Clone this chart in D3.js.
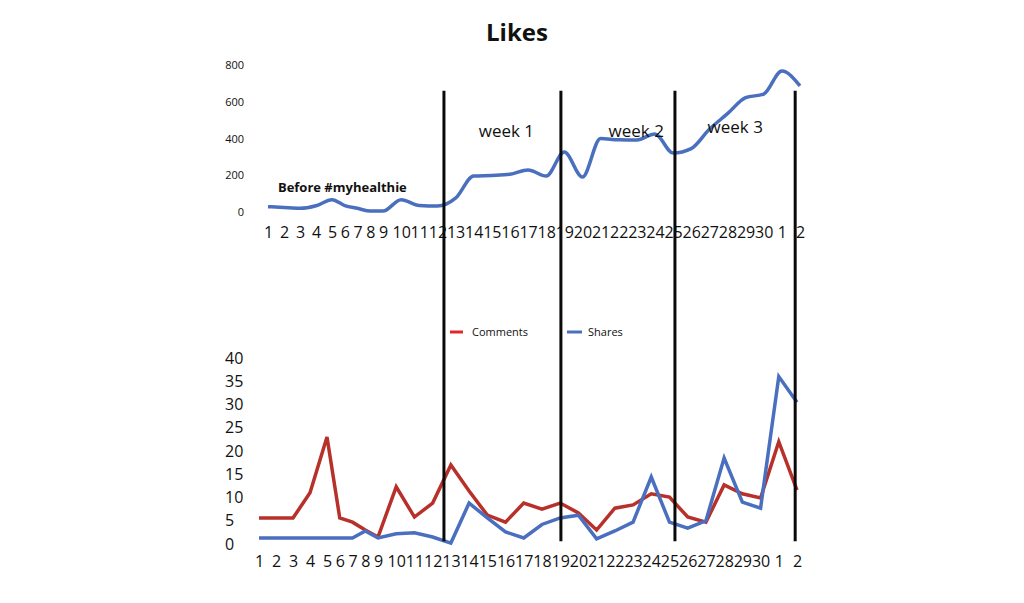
<!DOCTYPE html>
<html>
<head>
<meta charset="utf-8">
<script src="https://cdn.jsdelivr.net/npm/d3@7"></script>
<style>
  html, body { margin: 0; padding: 0; background: #fff; }
  text { font-family: "Open Sans", sans-serif; fill: #111; }
</style>
</head>
<body>
<div id="chart"></div>
<script>
// x categories: days of the campaign (month rolls over after 30)
const days = ["1","2","3","4","5","6","7","8","9","10","11","12","13","14","15","16",
  "17","18","19","20","21","22","23","24","25","26","27","28","29","30","1","2"];

const likes = [29, 24, 20, 34, 67, 35, 20, 5, 5, 67, 35, 32, 75, 196, 199, 205,
  229, 196, 327, 190, 400, 393, 392, 425, 321, 345, 450, 535, 622, 642, 767, 686];

const comments = [5.6, 5.6, 5.6, 11, 23, 5.6, 4.7, 3, 1.5, 12.3, 5.8, 8.8, 17, 11.4, 6.2, 4.7,
  8.8, 7.5, 8.8, 6.7, 3, 7.7, 8.4, 10.8, 10.1, 5.8, 4.7, 12.7, 10.8, 9.9, 22, 11.6];

const shares = [1.3, 1.3, 1.3, 1.3, 1.3, 1.3, 1.3, 2.8, 1.3, 2.2, 2.4, 1.5, 0.2, 8.8, 5.6, 2.6,
  1.3, 4.2, 5.6, 6.2, 1.1, 2.8, 4.7, 14.4, 4.7, 3.4, 5, 18.5, 9, 7.7, 36, 30.5];

const likeTicks = [0, 200, 400, 600, 800];
const commentTicks = [0, 5, 10, 15, 20, 25, 30, 35, 40];

// week boundaries, in day-index units
const weekBreaks = [11.62, 18.04, 24.3, 30.9];

const noteTexts = ["Before #myhealthie", "week 1", "week 2", "week 3"];
const seriesNames = ["Comments", "Shares"];

const width = 1024, height = 603;
const blue = "#4a6fbe", red = "#b8302a";

const svg = d3.select("#chart").append("svg")
  .attr("width", width).attr("height", height);

// the day labels were typed unevenly, so the x scales are piecewise
const xTop = d3.scaleLinear().domain([0, 4, 8, 31]).range([268, 332, 383, 800]);
const xBot = d3.scaleLinear().domain([0, 4, 8, 31]).range([259, 327, 378, 797]);
const yTop = d3.scaleLinear().domain([0, 800]).range([212, 65]);
const yBot = d3.scaleLinear().domain([0, 40]).range([544, 358]);

svg.append("text")
  .attr("x", 517).attr("y", 41)
  .attr("text-anchor", "middle")
  .style("font-size", "24px").style("font-weight", "bold")
  .text("Likes");

// ---- top panel: likes
const topY = svg.append("g")
  .attr("transform", "translate(244,0)")
  .call(d3.axisLeft(yTop).tickValues(likeTicks).tickSize(0).tickPadding(0));
topY.select(".domain").remove();
topY.selectAll("text").style("font-size", "11px").attr("fill", "#111");

const topX = svg.append("g")
  .attr("transform", "translate(0,227)")
  .call(d3.axisBottom(xTop).tickValues(d3.range(days.length))
    .tickFormat(i => days[i]).tickSize(0).tickPadding(0));
topX.select(".domain").remove();
topX.selectAll("text").style("font-size", "16px").attr("fill", "#111");

svg.append("path")
  .datum(likes)
  .attr("fill", "none")
  .attr("stroke", blue)
  .attr("stroke-width", 3.5)
  .attr("stroke-linejoin", "round")
  .attr("d", d3.line().x((d, i) => xTop(i)).y(d => yTop(d)).curve(d3.curveMonotoneX));

// notes sit in the top panel's data space
const notePos = [[0.62, 109, "bold", 13], [13.28, 408, "normal", 17], [20.44, 408, "normal", 17], [25.9, 430, "normal", 17]];
svg.selectAll(".note")
  .data(noteTexts)
  .enter().append("text")
  .attr("class", "note")
  .attr("x", (d, i) => xTop(notePos[i][0]))
  .attr("y", (d, i) => yTop(notePos[i][1]))
  .style("font-weight", (d, i) => notePos[i][2])
  .style("font-size", (d, i) => notePos[i][3] + "px")
  .text(d => d);

// ---- bottom panel: comments & shares
const botY = svg.append("g")
  .attr("transform", "translate(225,0)")
  .call(d3.axisRight(yBot).tickValues(commentTicks).tickSize(0).tickPadding(0));
botY.select(".domain").remove();
botY.selectAll("text").style("font-size", "16px").attr("fill", "#111");

const botX = svg.append("g")
  .attr("transform", "translate(0,556)")
  .call(d3.axisBottom(xBot).tickValues(d3.range(days.length))
    .tickFormat(i => days[i]).tickSize(0).tickPadding(0));
botX.select(".domain").remove();
botX.selectAll("text").style("font-size", "16px").attr("fill", "#111");

const botLine = d3.line().x((d, i) => xBot(i)).y(d => yBot(d));

svg.selectAll(".series")
  .data([comments, shares])
  .enter().append("path")
  .attr("class", "series")
  .attr("fill", "none")
  .attr("stroke", (d, i) => i == 0 ? red : blue)
  .attr("stroke-width", 3.5)
  .attr("stroke-linejoin", "miter")
  .attr("d", botLine);

// week dividers run through both panels
svg.selectAll(".week")
  .data(weekBreaks)
  .enter().append("line")
  .attr("class", "week")
  .attr("x1", d => xBot(d)).attr("x2", d => xBot(d))
  .attr("y1", yTop(660)).attr("y2", yBot(0.6))
  .attr("stroke", "#0a0a0a")
  .attr("stroke-width", 3);

// legend
const legend = svg.selectAll(".legend")
  .data(seriesNames)
  .enter().append("g")
  .attr("class", "legend")
  .attr("transform", (d, i) => "translate(" + (i == 0 ? 450 : 567) + ",332)");
legend.append("line")
  .attr("x1", 0).attr("x2", (d, i) => i == 0 ? 13 : 15)
  .attr("stroke", (d, i) => i == 0 ? "#e0282c" : blue)
  .attr("stroke-width", 3);
legend.append("text")
  .attr("x", (d, i) => i == 0 ? 22 : 21)
  .attr("y", 4)
  .style("font-size", "11px")
  .text(d => d);
</script>
</body>
</html>
